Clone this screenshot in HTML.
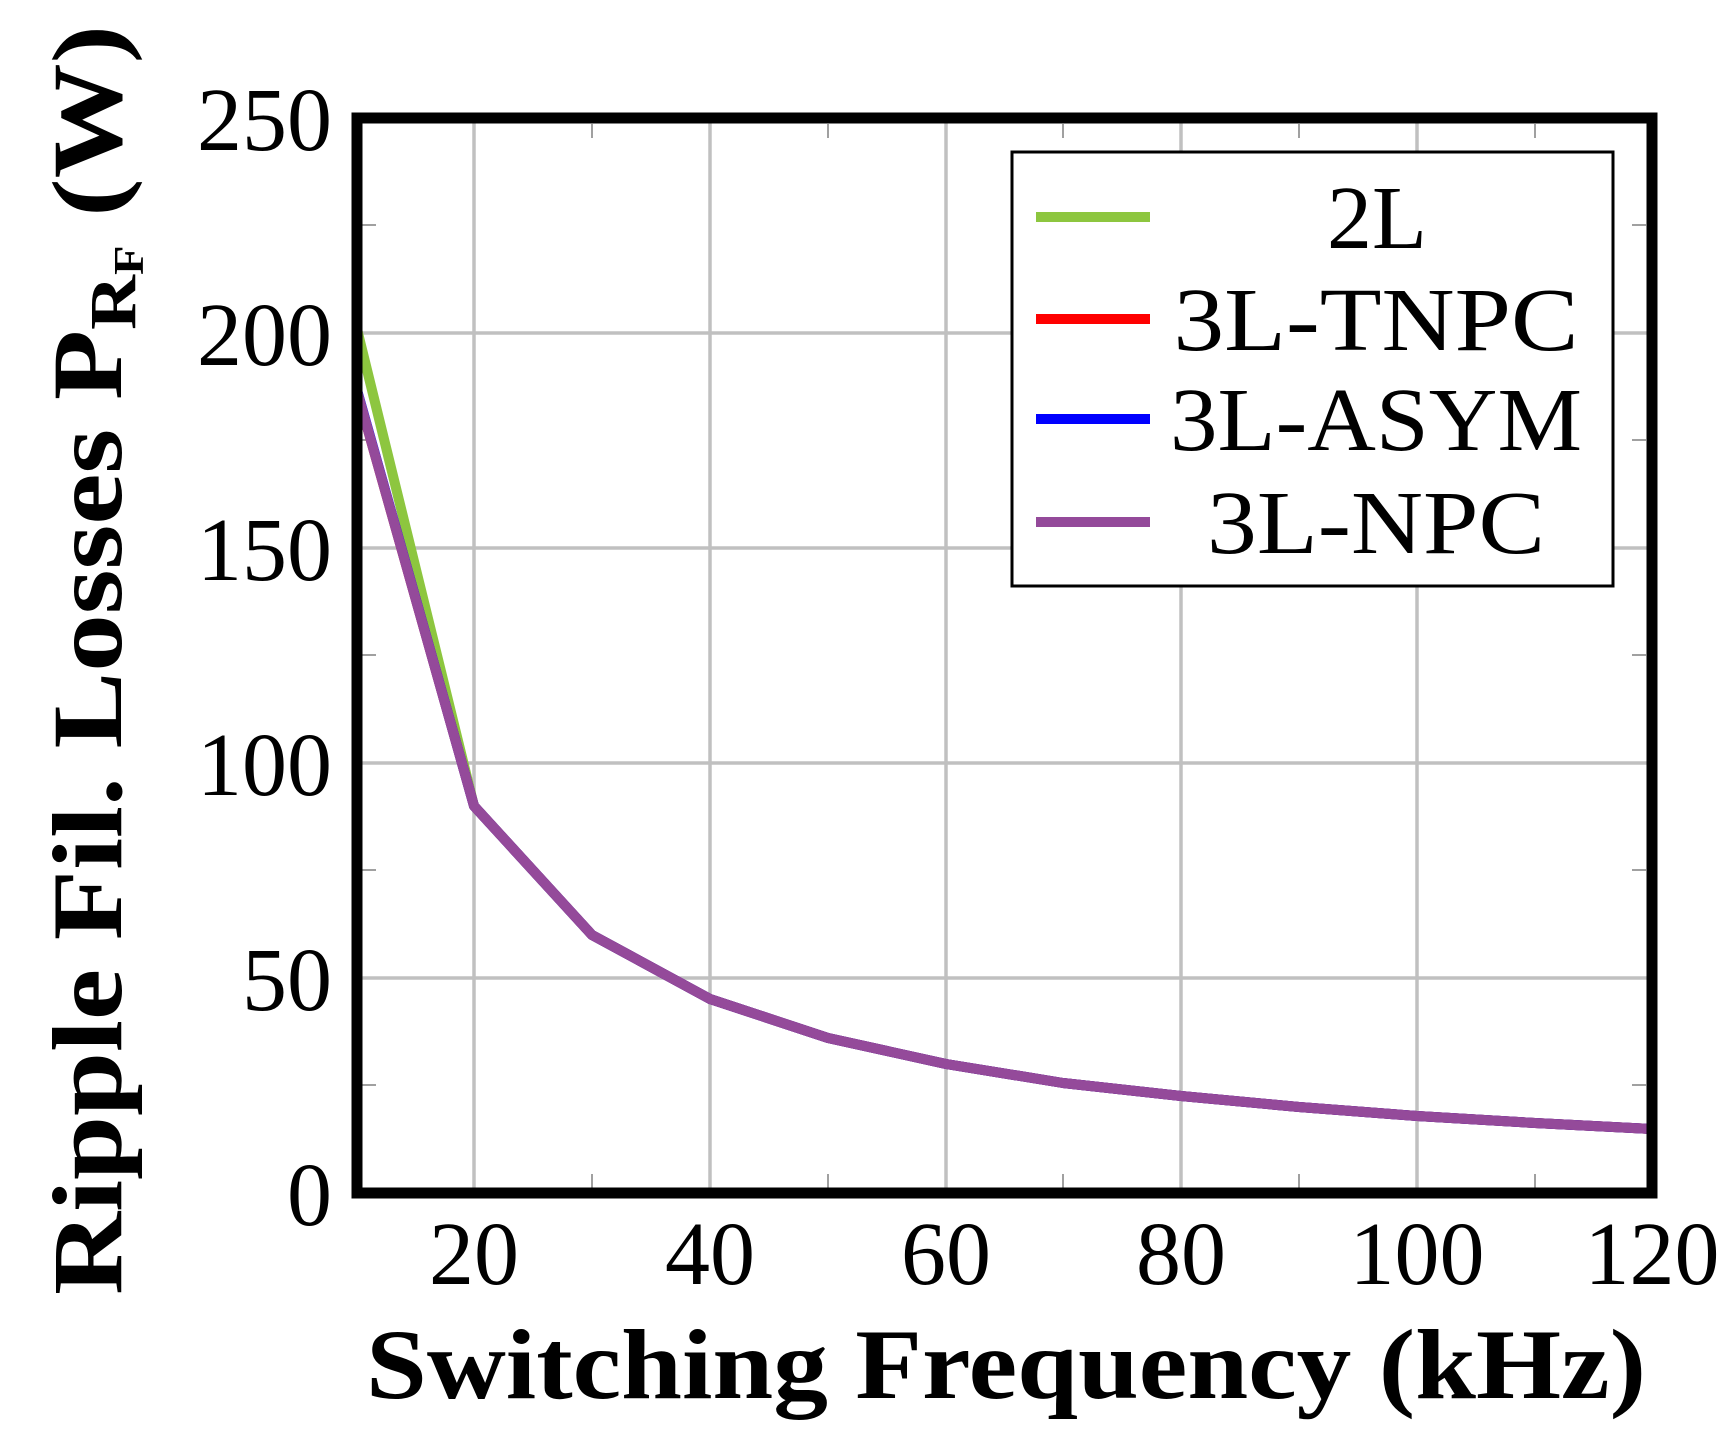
<!DOCTYPE html>
<html><head><style>html,body{margin:0;padding:0;background:#fff;}svg{display:block;}</style></head>
<body>
<svg width="1735" height="1433" viewBox="0 0 1735 1433" xmlns="http://www.w3.org/2000/svg">
<rect width="1735" height="1433" fill="#fff"/>
<g stroke="#c0c0c0" stroke-width="3.5">
<line x1="474" y1="118" x2="474" y2="1193"/>
<line x1="710" y1="118" x2="710" y2="1193"/>
<line x1="946" y1="118" x2="946" y2="1193"/>
<line x1="1181" y1="118" x2="1181" y2="1193"/>
<line x1="1417" y1="118" x2="1417" y2="1193"/>
<line x1="357" y1="978" x2="1652" y2="978"/>
<line x1="357" y1="763" x2="1652" y2="763"/>
<line x1="357" y1="548" x2="1652" y2="548"/>
<line x1="357" y1="333" x2="1652" y2="333"/>
</g>
<g stroke="#808080" stroke-width="1.5">
<line x1="592" y1="1188" x2="592" y2="1174"/><line x1="828" y1="1188" x2="828" y2="1174"/><line x1="1063" y1="1188" x2="1063" y2="1174"/><line x1="1299" y1="1188" x2="1299" y2="1174"/><line x1="1535" y1="1188" x2="1535" y2="1174"/>
<line x1="592" y1="124" x2="592" y2="138"/><line x1="828" y1="124" x2="828" y2="138"/><line x1="1063" y1="124" x2="1063" y2="138"/><line x1="1299" y1="124" x2="1299" y2="138"/><line x1="1535" y1="124" x2="1535" y2="138"/>
<line x1="362" y1="1085" x2="376" y2="1085"/><line x1="362" y1="870" x2="376" y2="870"/><line x1="362" y1="655" x2="376" y2="655"/><line x1="362" y1="440" x2="376" y2="440"/><line x1="362" y1="225" x2="376" y2="225"/>
<line x1="1646" y1="1085" x2="1632" y2="1085"/><line x1="1646" y1="870" x2="1632" y2="870"/><line x1="1646" y1="655" x2="1632" y2="655"/><line x1="1646" y1="440" x2="1632" y2="440"/><line x1="1646" y1="225" x2="1632" y2="225"/>
</g>
<g fill="none" stroke-width="10" stroke-linejoin="round">
<polyline stroke="#8dc63f" points="357,329 474,806 592,935 710,999 828,1038 946,1064 1063,1083 1181,1096 1299,1107 1417,1116 1535,1123 1652,1129"/>
<polyline stroke="#ff0000" points="357,391 474,806 592,935 710,999 828,1038 946,1064 1063,1083 1181,1096 1299,1107 1417,1116 1535,1123 1652,1129"/>
<polyline stroke="#0000ff" points="357,390 474,806 592,935 710,999 828,1038 946,1064 1063,1083 1181,1096 1299,1107 1417,1116 1535,1123 1652,1129"/>
<polyline stroke="#944a9a" points="357,391 474,806 592,935 710,999 828,1038 946,1064 1063,1083 1181,1096 1299,1107 1417,1116 1535,1123 1652,1129"/>
</g>
<rect x="357" y="118" width="1295" height="1075" fill="none" stroke="#000" stroke-width="11"/>
<rect x="1012" y="152" width="601" height="434" fill="#fff" stroke="#000" stroke-width="3"/>
<g stroke-width="10">
<line x1="1036" y1="217" x2="1150" y2="217" stroke="#8dc63f"/>
<line x1="1036" y1="319" x2="1150" y2="319" stroke="#ff0000"/>
<line x1="1036" y1="419" x2="1150" y2="419" stroke="#0000ff"/>
<line x1="1036" y1="522" x2="1150" y2="522" stroke="#944a9a"/>
</g>
<g font-family="Liberation Serif, serif" font-size="90" fill="#000" text-anchor="middle">
<text x="1377" y="248" textLength="100">2L</text>
<text x="1376" y="350" textLength="405" lengthAdjust="spacingAndGlyphs">3L-TNPC</text>
<text x="1376" y="450" textLength="412" lengthAdjust="spacingAndGlyphs">3L-ASYM</text>
<text x="1376" y="553" textLength="338" lengthAdjust="spacingAndGlyphs">3L-NPC</text>
</g>
<g font-family="Liberation Serif, serif" font-size="90" fill="#000" text-anchor="end">
<text x="332" y="150">250</text>
<text x="332" y="365">200</text>
<text x="332" y="580">150</text>
<text x="332" y="795">100</text>
<text x="332" y="1010">50</text>
<text x="332" y="1225">0</text>
</g>
<g font-family="Liberation Serif, serif" font-size="90" fill="#000" text-anchor="middle">
<text x="474" y="1284">20</text>
<text x="710" y="1284">40</text>
<text x="946" y="1284">60</text>
<text x="1181" y="1284">80</text>
<text x="1417" y="1284">100</text>
<text x="1652" y="1284">120</text>
</g>
<text x="1006" y="1398" font-family="Liberation Serif, serif" font-size="100" font-weight="bold" text-anchor="middle" textLength="1280" lengthAdjust="spacingAndGlyphs">Switching Frequency (kHz)</text>
<text transform="translate(121,660) rotate(-90)" font-family="Liberation Serif, serif" font-size="100" font-weight="bold" text-anchor="middle" textLength="1270" lengthAdjust="spacingAndGlyphs">Ripple Fil. Losses P<tspan font-size="66" dy="14">R</tspan><tspan font-size="42" dy="8">F</tspan><tspan dy="-22"> (W)</tspan></text>
</svg>
</body></html>
